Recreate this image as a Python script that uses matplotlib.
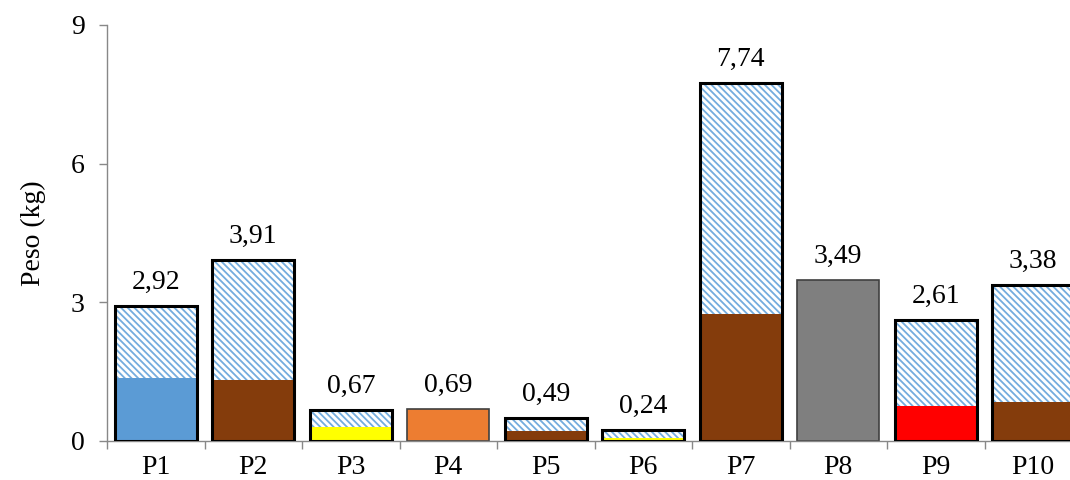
import matplotlib
matplotlib.use("Agg")
import matplotlib.pyplot as plt
from matplotlib.ticker import FixedLocator

plt.rcParams['font.family'] = ['Liberation Serif', 'DejaVu Serif']
plt.rcParams['hatch.linewidth'] = 1.3

# Data
labels = ["P1", "P2", "P3", "P4", "P5", "P6", "P7", "P8", "P9", "P10"]
totals = [2.92, 3.91, 0.67, 0.69, 0.49, 0.24, 7.74, 3.49, 2.61, 3.38]
base = [1.36, 1.33, 0.30, 0.69, 0.22, 0.07, 2.74, 3.49, 0.76, 0.84]
base_colors = ["#5B9BD5", "#843C0C", "#FFFF00", "#ED7D31", "#843C0C",
               "#FFFF00", "#843C0C", "#7F7F7F", "#FF0000", "#843C0C"]
value_text = ["2,92", "3,91", "0,67", "0,69", "0,49", "0,24", "7,74", "3,49", "2,61", "3,38"]
y_ticks = [0, 3, 6, 9]

fig = plt.figure(figsize=(10.7, 4.8), dpi=100)
ax = fig.add_axes([107 / 1070, 39 / 480, 963 / 1070, 416 / 480])

x = list(range(len(labels)))
width = 0.84
hatch_blue = "#74ACDE"

for i in x:
    tot, b, c = totals[i], base[i], base_colors[i]
    rest = tot - b
    if rest > 1e-9:
        # coloured lower part
        ax.bar(i, b, width, color=c, edgecolor="none", linewidth=0, zorder=2)
        # hatched upper part
        ax.bar(i, rest, width, bottom=b, facecolor="white", edgecolor=hatch_blue,
               hatch="\\" * 5, linewidth=0, zorder=2)
        # bold outline around the stack
        ax.bar(i, tot, width, fill=False, edgecolor="black", linewidth=2.2, zorder=3)
    else:
        ax.bar(i, tot, width, color=c, edgecolor="#404040", linewidth=1.2, zorder=2)
    ax.annotate(value_text[i], (i, tot), xytext=(0, 8), textcoords="offset points",
                ha="center", va="bottom", fontsize=20)

ax.set_xlim(-0.5, -0.5 + 963 / 97.5)
ax.set_ylim(0, 9)
ax.set_yticks(y_ticks)
ax.set_yticklabels([str(t) for t in y_ticks], fontsize=20)
ax.set_xticks(x)
ax.set_xticklabels(labels, fontsize=20)
ax.xaxis.set_minor_locator(FixedLocator([i - 0.5 for i in range(len(labels) + 1)]))
ax.tick_params(axis="x", which="major", length=0, pad=10)
ax.tick_params(axis="x", which="minor", length=6, color="#888888", width=1)
ax.tick_params(axis="y", which="major", length=6, color="#888888", width=1, pad=10)

for s in ["top", "right"]:
    ax.spines[s].set_visible(False)
for s in ["left", "bottom"]:
    ax.spines[s].set_color("#888888")
    ax.spines[s].set_linewidth(1)

ax.set_ylabel("Peso (kg)", fontsize=20, labelpad=18)

fig.savefig("out.png", dpi=100)
